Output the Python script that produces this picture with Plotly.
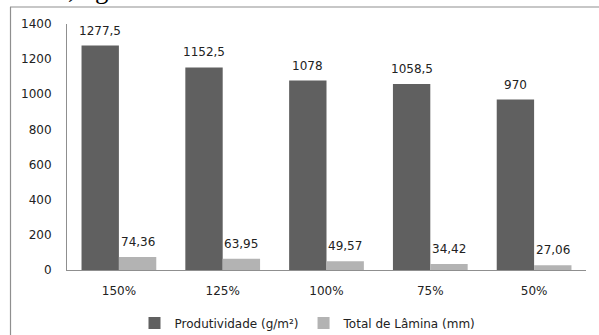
import plotly.graph_objects as go

# Irrigation treatments (percent of reference depth)
categories = ["150%", "125%", "100%", "75%", "50%"]
productivity = [1277.5, 1152.5, 1078, 1058.5, 970]      # g/m²
water_depth = [74.36, 63.95, 49.57, 34.42, 27.06]        # mm
y_ticks = [0, 200, 400, 600, 800, 1000, 1200, 1400]

DARK = "#606060"
LIGHT = "#b3b3b3"
AXIS = "#8f8f8f"
FONT = "DejaVu Sans"

W, H = 599, 335
ML, MR, MT, MB = 67, 13, 24, 65
PW, PH = W - ML - MR, H - MT - MB


def px_x(px):
    return (px - ML) / PW


def px_y(py):
    return (H - MB - py) / PH


def fmt(v):
    return f"{v:g}".replace(".", ",")


fig = go.Figure()
fig.add_trace(go.Bar(x=categories, y=productivity, name="Produtividade (g/m²)",
                     marker=dict(color=DARK, line=dict(width=0))))
fig.add_trace(go.Bar(x=categories, y=water_depth, name="Total de Lâmina (mm)",
                     marker=dict(color=LIGHT, line=dict(width=0))))

annotations = []
bar_half = PW / len(categories) * 0.72 / 4
for cat, v in zip(categories, productivity):
    annotations.append(dict(x=cat, y=v, xref="x", yref="y", text=fmt(v), showarrow=False,
                            xshift=-bar_half, yshift=6, yanchor="bottom",
                            font=dict(family=FONT, size=12, color="#222")))
for cat, v in zip(categories, water_depth):
    annotations.append(dict(x=cat, y=v, xref="x", yref="y", text=fmt(v), showarrow=False,
                            xshift=bar_half, yshift=6, yanchor="bottom",
                            font=dict(family=FONT, size=12, color="#222")))

# running text line above the chart box
annotations.append(dict(x=px_x(12), y=px_y(6), xref="paper", yref="paper",
                        text="1277,5 g/m².", showarrow=False, xanchor="left", yanchor="bottom",
                        font=dict(family="Liberation Serif", size=27, color="#000")))

shapes = [
    dict(type="line", xref="paper", yref="paper", x0=px_x(10.5), x1=px_x(10.5),
         y0=px_y(7), y1=px_y(340), line=dict(color=AXIS, width=1.2)),
    dict(type="line", xref="paper", yref="paper", x0=px_x(10), x1=px_x(605),
         y0=px_y(7), y1=px_y(7), line=dict(color=AXIS, width=1.2)),
]

fig.update_layout(
    width=W, height=H,
    margin=dict(l=ML, r=MR, t=MT, b=MB, autoexpand=False),
    paper_bgcolor="white", plot_bgcolor="white",
    barmode="group", bargap=0.28, bargroupgap=0,
    font=dict(family=FONT, size=12, color="#222"),
    showlegend=True,
    legend=dict(orientation="h", x=px_x(308), xanchor="center", y=px_y(323), yanchor="middle",
                font=dict(family=FONT, size=12, color="#222"), itemwidth=30,
                tracegroupgap=0, traceorder="normal", bgcolor="rgba(0,0,0,0)"),
    annotations=annotations,
    shapes=shapes,
)
fig.update_xaxes(showline=True, linecolor=AXIS, linewidth=1, ticks="", showgrid=False,
                 ticklabelstandoff=10, tickfont=dict(family=FONT, size=12, color="#222"))
fig.update_yaxes(range=[0, 1400], tickvals=y_ticks, showline=True, linecolor=AXIS, linewidth=1,
                 ticks="", showgrid=False, zeroline=False, ticklabelstandoff=12,
                 tickfont=dict(family=FONT, size=12, color="#222"))

fig.write_html("out.html")
